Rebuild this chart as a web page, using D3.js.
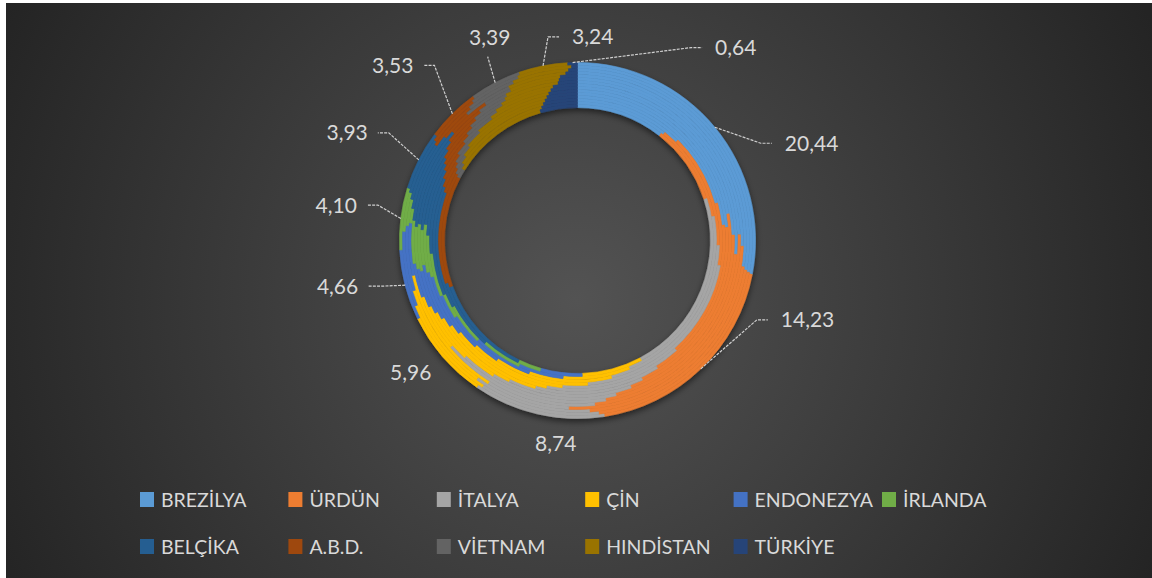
<!DOCTYPE html>
<html><head><meta charset="utf-8">
<script src="https://cdn.jsdelivr.net/npm/d3@7"></script>
<style>html,body{margin:0;padding:0;background:#fff;} svg{display:block;}</style>
</head><body>
<svg id="chart" width="1152" height="578"></svg>
<script>
// ---------- DATA ----------
const countries = ["BREZİLYA","ÜRDÜN","İTALYA","ÇİN","ENDONEZYA","İRLANDA","BELÇİKA","A.B.D.","VİETNAM","HINDİSTAN","TÜRKİYE"];
// each array: one value per ring, outermost ring first (outermost ring = labelled series)
const brezilya  = [20.44, 20.34, 20.24, 20.04, 18.62, 17.81, 19.23, 17.81, 16.19, 17.20, 17.00, 15.18, 9.11, 7.89, 7.69];
const urdun     = [14.23, 14.67, 15.38, 17.00, 16.60, 16.60, 14.37, 14.57, 15.18, 12.75, 10.93, 5.06, 9.51, 8.30, 6.88];
const italya    = [8.74, 8.10, 8.10, 5.87, 11.33, 10.93, 9.31, 9.31, 8.30, 8.91, 9.71, 15.38, 14.98, 15.79, 16.19];
const cin       = [5.96, 7.08, 7.49, 9.31, 4.05, 4.45, 6.27, 6.88, 8.10, 8.10, 7.69, 7.69, 6.88, 5.67, 5.26];
const endonezya = [4.66, 5.06, 4.45, 3.64, 2.43, 2.83, 3.24, 4.25, 4.45, 4.86, 4.86, 4.86, 5.06, 3.85, 3.64];
const irlanda   = [4.10, 2.63, 1.82, 1.01, 3.04, 3.04, 3.44, 2.63, 3.64, 3.24, 3.44, 2.02, 3.44, 3.44, 2.02];
const belcika   = [3.93, 3.85, 4.05, 5.46, 6.88, 6.68, 5.87, 5.67, 4.86, 5.26, 6.07, 8.91, 9.71, 6.07, 8.91];
const abd       = [3.53, 3.64, 3.44, 2.23, 3.04, 3.04, 3.04, 3.04, 2.83, 2.63, 2.23, 2.23, 2.23, 9.51, 9.71];
const vietnam   = [3.39, 3.44, 3.44, 3.44, 2.02, 2.23, 2.63, 2.83, 2.83, 2.83, 2.43, 1.62, 1.21, 1.01, 0.81];
const hindistan = [3.24, 3.64, 3.85, 4.05, 3.64, 3.95, 4.05, 4.05, 4.45, 4.86, 6.07, 7.29, 7.89, 8.30, 8.50];
const turkiye   = [0.64, 0.40, 0.61, 0.81, 1.21, 1.32, 1.42, 1.82, 2.02, 2.23, 2.43, 2.63, 2.83, 3.04, 3.24];

const series = [brezilya, urdun, italya, cin, endonezya, irlanda, belcika, abd, vietnam, hindistan, turkiye];

// ---------- STYLE / LAYOUT ----------
const colors = ["#5b9bd5","#ed7d31","#a5a5a5","#ffc000","#4472c4","#70ad47","#255e91","#9e480e","#636363","#997300","#264478"];
const W = 1152, H = 578;
const cx = 577.5, cy = 240.5;
const rOuter = 178, rInner = 133;
const nRings = brezilya.length;
const ringW = (rOuter - rInner) / nRings;
// label placement (offset of text from leader anchor on outer edge)
const labelLayout = [
  {dx: 70,  dy: 16,  anchor: "start",  leader: "side"},
  {dx: 80,  dy: -49, anchor: "start",  leader: "side"},
  {dx: 18,  dy: 29,  anchor: "middle", leader: "none"},
  {dx: -32, dy: 16,  anchor: "middle", leader: "none"},
  {dx: -47, dy: 1,   anchor: "end",    leader: "side"},
  {dx: -44, dy: -13.5, anchor: "end",  leader: "side"},
  {dx: -51, dy: -27, anchor: "end",    leader: "side"},
  {dx: -39, dy: -48.5, anchor: "end",  leader: "side"},
  {dx: -5.5, dy: -45, anchor: "middle", leader: "below"},
  {dx: 29,  dy: -29, anchor: "start",  leader: "side"},
  {dx: 142.5, dy: -15, anchor: "start", leader: "side"}
];

const svg = d3.select("#chart");
const defs = svg.append("defs");
const rg = defs.append("radialGradient").attr("id","bg")
  .attr("gradientUnits","userSpaceOnUse").attr("cx",576).attr("cy",300).attr("r",640);
rg.append("stop").attr("offset","0%").attr("stop-color","#535353");
rg.append("stop").attr("offset","100%").attr("stop-color","#242424");
const f = defs.append("filter").attr("id","sh").attr("x","-20%").attr("y","-20%").attr("width","140%").attr("height","140%");
f.append("feDropShadow").attr("dx",0).attr("dy",3).attr("stdDeviation",3)
  .attr("flood-color","#000").attr("flood-opacity",0.55);

svg.append("rect").attr("x",6).attr("y",3).attr("width",W-6).attr("height",H-3).attr("fill","url(#bg)");

const pie = d3.pie().sort(null).value(d => d);
const g = svg.append("g").attr("transform",`translate(${cx},${cy})`).attr("filter","url(#sh)");

for (let i = 0; i < nRings; i++) {
  const vals = series.map(s => s[i]);
  const arcs = pie(vals);
  const ro = rOuter - i * ringW, ri = ro - ringW;
  const arc = d3.arc().innerRadius(ri).outerRadius(ro);
  g.append("g").selectAll("path").data(arcs).join("path")
    .attr("d", arc)
    .attr("fill", (d, k) => colors[k])
    .attr("stroke", (d, k) => colors[k])
    .attr("stroke-width", 0.6);
}

// ---------- DATA LABELS ----------
const locale = d3.formatLocale({decimal: ",", thousands: ".", grouping: [3], currency: ["", ""]});
const fmt = locale.format(".2f");
const outerArcs = pie(series.map(s => s[0]));
const FS = 21;
const lbl = svg.append("g").attr("font-family","Lato, 'Open Sans', sans-serif").attr("font-size",FS).attr("fill","#d9d9d9");
outerArcs.forEach((a, k) => {
  const mid = (a.startAngle + a.endAngle) / 2;
  const ax = cx + rOuter * Math.sin(mid), ay = cy - rOuter * Math.cos(mid);
  const L = labelLayout[k];
  const tx = ax + L.dx, ty = ay + L.dy;
  lbl.append("text").attr("x", tx).attr("y", ty + FS * 0.36)
    .attr("text-anchor", L.anchor).text(fmt(a.data));
  let pts = null;
  if (L.leader === "side") {
    if (L.anchor === "start") pts = [[ax, ay], [tx - 24, ty], [tx - 13, ty]];
    else pts = [[ax, ay], [tx + 21, ty], [tx + 10, ty]];
  } else if (L.leader === "below") {
    pts = [[ax, ay], [tx - 2, ty + 19]];
  }
  if (pts) {
    svg.append("path").attr("d", d3.line()(pts)).attr("fill","none")
      .attr("stroke","#d0d0d0").attr("stroke-width",1.2).attr("stroke-dasharray","3,1.2");
  }
});

// ---------- LEGEND ----------
const legX0 = 140, legStep = 148.4, legRows = [499.5, 546.5], perRow = 6;
const leg = svg.append("g").attr("font-family","Lato, 'Open Sans', sans-serif").attr("font-size",19.5).attr("fill","#d9d9d9");
countries.forEach((c, k) => {
  const row = Math.floor(k / perRow), col = k % perRow;
  const x = legX0 + col * legStep, y = legRows[row];
  leg.append("rect").attr("x", x).attr("y", y - 7.5).attr("width", 14).attr("height", 15).attr("fill", colors[k]);
  leg.append("text").attr("x", x + 21).attr("y", y + 7).text(c);
});
</script>
</body></html>
